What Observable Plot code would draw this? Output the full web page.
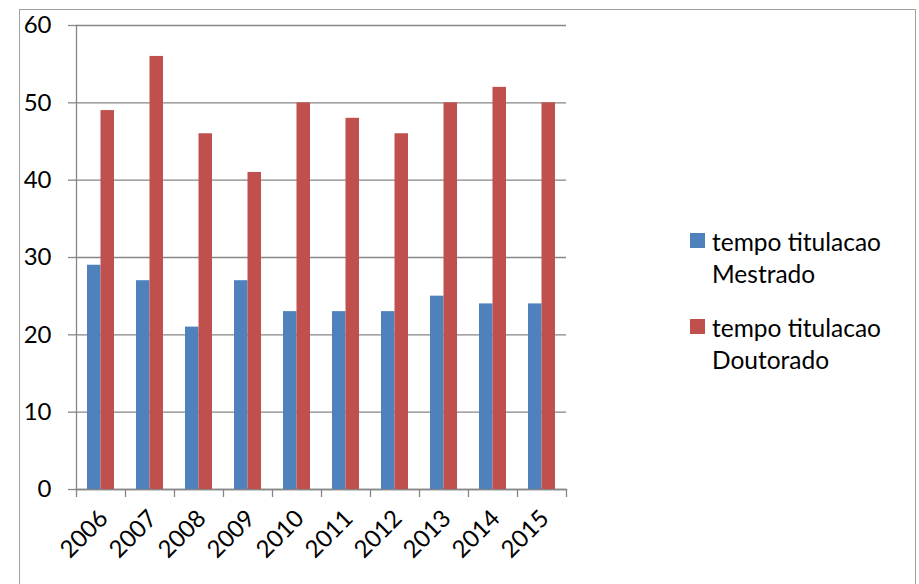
<!DOCTYPE html>
<html><head><meta charset="utf-8">
<script src="https://cdn.jsdelivr.net/npm/d3@7"></script>
<script src="https://cdn.jsdelivr.net/npm/@observablehq/plot@0.6"></script>
<style>
body{margin:0;background:#fff;}
#wrap{position:relative;width:919px;height:584px;overflow:hidden;font-family:Lato,sans-serif;color:#000;}
#frame{position:absolute;left:19px;top:9px;width:897px;height:620px;border:1.5px solid #a0a0a0;box-sizing:border-box;}
#chart{position:absolute;left:0;top:0;}
.sw{position:absolute;width:15px;height:15px;}
.lt{position:absolute;font-size:24.5px;line-height:32px;white-space:nowrap;}
</style></head><body>
<div id="wrap"><div id="frame"></div><div id="chart"></div><div id="legend"></div></div>
<script>
const years = ["2006","2007","2008","2009","2010","2011","2012","2013","2014","2015"];
const mestrado = [29,27,21,27,23,23,23,25,24,24];
const doutorado = [49,56,46,41,50,48,46,50,52,50];
const seriesNames = ["tempo titulacao Mestrado","tempo titulacao Doutorado"];
const colors = ["#4F81BD","#C0504D"];
const yTicks = [0,10,20,30,40,50,60];

const rowsM = years.map((y,i)=>({year:y, value:mestrado[i]}));
const rowsD = years.map((y,i)=>({year:y, value:doutorado[i]}));
const axisGray = "#868686";

const plot = Plot.plot({
  width: 919, height: 584,
  marginLeft: 76, marginRight: 353, marginTop: 25, marginBottom: 95,
  style: {fontFamily: "Lato, sans-serif", fontSize: "24px", color: "#000", background: "transparent", overflow: "visible"},
  x: {type: "band", domain: years, padding: 0, axis: null},
  y: {domain: [0, 60], axis: null},
  marks: [
    Plot.gridY(yTicks, {stroke: axisGray, strokeOpacity: 1, strokeWidth: 1.3}),
    Plot.axisY(yTicks, {tickSize: 8, tickPadding: 17, stroke: axisGray, strokeWidth: 1.3, fill: "#000", fontSize: 24, label: null}),
    Plot.frame({anchor: "left", stroke: axisGray, strokeWidth: 1.3}),
    Plot.frame({anchor: "bottom", stroke: axisGray, strokeWidth: 1.3}),
    Plot.axisX(years, {tickSize: 8, dx: -24.5, fill: "none", stroke: axisGray, strokeWidth: 1.3, label: null}),
    Plot.axisX([years[years.length-1]], {tickSize: 8, dx: 24.5, fill: "none", stroke: axisGray, strokeWidth: 1.3, label: null}),
    Plot.axisX(years, {tickSize: 0, tickRotate: -45, tickPadding: 25, dx: 3, fontSize: 24, fill: "#000", label: null}),
    Plot.barY(rowsM, {x: "year", y: "value", fill: colors[0], insetLeft: 11, insetRight: 24.5}),
    Plot.barY(rowsD, {x: "year", y: "value", fill: colors[1], insetLeft: 24.5, insetRight: 11})
  ]
});
document.getElementById("chart").appendChild(plot);

const legend = document.getElementById("legend");
const tops = [233, 319];
seriesNames.forEach((name, i) => {
  const sw = document.createElement("div");
  sw.className = "sw";
  sw.style.left = "690px";
  sw.style.top = tops[i] + "px";
  sw.style.background = colors[i];
  legend.appendChild(sw);
  const k = name.lastIndexOf(" ");
  const t = document.createElement("div");
  t.className = "lt";
  t.style.left = "712px";
  t.style.top = (tops[i] - 7) + "px";
  t.innerHTML = name.slice(0, k) + "<br>" + name.slice(k + 1);
  legend.appendChild(t);
});
</script>
</body></html>
